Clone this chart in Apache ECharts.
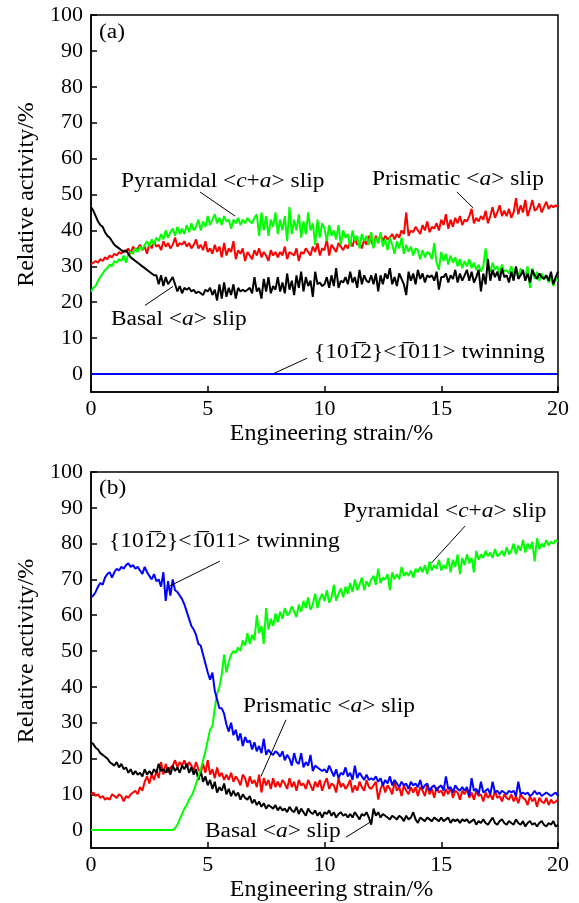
<!DOCTYPE html>
<html>
<head>
<meta charset="utf-8">
<script src="https://cdn.jsdelivr.net/npm/echarts@6/dist/echarts.min.js"></script>
<style>
  html, body { margin: 0; padding: 0; background: #fff; }
  #chart { width: 579px; height: 903px; }
</style>
</head>
<body>
<div id="chart"></div>
<script>
// strain sampled every 0.1 % from 0 to 20
const strain = Array.from({ length: 201 }, (_, i) => +(i * 0.1).toFixed(1));
const yTicks = [0, 10, 20, 30, 40, 50, 60, 70, 80, 90, 100];

// ---- panel (a) ----
const basalA = [
  46.5, 45.5, 44, 42.5, 41.5, 41, 39.5, 38.5, 38, 37, 36,
  35.5, 35, 34.5, 34, 34.5, 33.5, 32.5, 32, 31.5, 31,
  30.5, 30, 29.5, 29, 28.5, 28, 27.5, 27.5, 25, 27.5,
  24.5, 27, 25, 26, 27, 25, 23, 24.5, 22.5, 24,
  23.5, 24, 23, 23.5, 22.5, 23, 22.5, 22, 23.5, 23,
  24, 22, 23.5, 20.5, 25, 21, 25.5, 21.5, 24, 22,
  25, 21, 24, 23, 23.5, 23, 23.5, 24, 22.5, 27,
  23, 24, 21, 26.5, 23, 27, 22.5, 24.5, 23.5, 27,
  23, 25.5, 22.5, 28, 23.5, 26, 22, 27.5, 24, 28.5,
  23, 27, 24.5, 26, 21.5, 28.5, 25, 25.5, 24.5, 25,
  27, 24, 27.5, 24.5, 29.5, 24, 26, 25.5, 27, 25,
  28.5, 25.5, 27, 24, 29, 25, 27.5, 26, 25.5, 27.5,
  25, 28, 23, 27.5, 25, 28, 26.5, 29.5, 25, 27,
  24.5, 28, 26.5, 25, 22, 28.5, 26, 28, 25, 29,
  26.5, 28, 25.5, 27.5, 27, 27.5, 26, 28.5, 23.5, 27,
  27, 28, 25.5, 27.5, 26.5, 29, 25.5, 28, 26, 27.5,
  29, 26, 28.5, 25.5, 27, 29, 23, 28, 25, 32,
  26, 29, 27, 28.5, 26, 29.5, 27, 27.5, 25.5, 28.5,
  26, 30, 26.5, 27.5, 29, 26, 28, 25.5, 29, 27.5,
  26.5, 28, 27, 26.5, 27.5, 26, 28.5, 25, 27, 28.5
];
const prismA = [
  30.5, 31, 31.5, 31, 32, 31.5, 32.5, 32, 33, 32.5, 33.5,
  33, 34, 33.5, 34.5, 34, 35, 33.5, 35.5, 34.5, 35,
  36, 34.5, 35.5, 33.5, 36.5, 35, 37, 35.5, 36, 34.5,
  37, 35.5, 36.5, 35, 36, 38, 35.5, 36.5, 36, 37,
  35.5, 36.5, 35, 36, 37.5, 35, 36, 34.5, 37, 34,
  35, 33.5, 36, 34, 35.5, 32.5, 36.5, 33, 35, 34,
  37, 32, 34.5, 33.5, 35, 31.5, 34, 33, 32, 34.5,
  33, 35, 32.5, 34, 33, 31.5, 34.5, 33, 34, 32.5,
  34, 33, 35.5, 32, 34, 33.5, 33, 35, 31.5, 34,
  33.5, 35, 34, 33, 35.5, 34, 36.5, 33, 35, 34.5,
  37.5, 33, 36, 35, 34, 36.5, 35.5, 34.5, 36, 35,
  37, 35.5, 38, 36, 36.5, 35, 37.5, 36, 38.5, 37,
  35.5, 38.5, 36.5, 39, 37, 38.5, 37.5, 38, 39, 37.5,
  39, 38, 40, 39, 45, 38.5, 40, 39.5, 41, 40,
  39, 41.5, 40, 42.5, 39.5, 41, 40.5, 42, 40, 43,
  41.5, 44.5, 40.5, 43, 41, 43.5, 42, 44, 41.5, 43,
  42.5, 44, 46, 42, 43.5, 42.5, 44, 43, 45.5, 42,
  44, 46.5, 43.5, 45, 47, 44, 45.5, 44, 46, 43.5,
  45, 49, 44.5, 47, 45, 48.5, 44, 46, 48.5, 45.5,
  46, 47.5, 45, 46.5, 48, 46, 47, 46.5, 47, 46.5
];
const pyrA = [
  23, 24, 24.5, 26, 27, 28, 29, 29.5, 30.5, 30, 31.5,
  31, 32, 31.5, 33, 31, 33.5, 34, 33.5, 35, 34,
  35.5, 34.5, 36, 37, 35.5, 37.5, 36, 38, 37, 39,
  37.5, 40, 38, 39.5, 40.5, 38.5, 41, 39, 40.5, 39,
  41.5, 39.5, 42, 40, 41, 43, 40, 42.5, 41, 44,
  41.5, 43, 44.5, 42, 43.5, 41.5, 44, 42.5, 43, 40.5,
  43, 42, 43.5, 41.5, 43, 42, 43.5, 42.5, 42, 43.5,
  44.5, 38.5, 45, 40, 44, 38.5, 43, 41, 45, 39,
  43, 40, 44, 37, 46.5, 39, 43, 40, 44.5, 38,
  42.5, 39, 45, 40, 42, 36, 43, 38, 42, 40.5,
  37, 41.5, 38.5, 40, 37.5, 41.5, 36, 40, 38, 39,
  35.5, 40, 37, 38.5, 35, 39, 37, 38.5, 36, 39.5,
  35, 38, 36.5, 39.5, 35.5, 37.5, 34.5, 38, 36, 33.5,
  37, 35, 38, 33.5, 36, 34, 35.5, 33, 35, 34.5,
  32, 34.5, 32.5, 34, 33.5, 32, 36.5, 31, 29, 34,
  31.5, 33.5, 30.5, 33, 31, 32.5, 30, 32, 29.5, 31.5,
  30, 32, 29.5, 31, 29, 30.5, 28.5, 30, 35, 30,
  28.5, 31, 29, 30, 27.5, 30.5, 28.5, 29, 28, 30,
  27.5, 29.5, 27, 29.5, 28, 27, 30, 24, 29.5, 26.5,
  28.5, 26, 28, 26.5, 27.5, 25.5, 27, 24.5, 26.5, 26
];
const twinAStrain = [0, 20];
const twinA = [0, 0];

// ---- panel (b) ----
const basalB = [
  24.5, 24, 23, 22.5, 21.5, 21, 20.5, 20, 19, 18.5, 18,
  19, 17.5, 18.5, 17, 17.5, 16, 17, 15.5, 16.5, 15.5,
  16, 15, 17, 15.5, 16.5, 15.5, 17, 16, 18.5, 16.5,
  17, 16, 17.5, 15.5, 18, 16.5, 17.5, 16, 18, 17,
  18.5, 16, 17.5, 15.5, 17, 14, 16.5, 13.5, 15, 12.5,
  14, 11.5, 13.5, 10.5, 12, 11, 13, 10, 11.5, 9.5,
  11, 9.5, 10.5, 8.5, 10, 9, 8.5, 9.5, 7.5, 8.5,
  7, 8, 6.5, 7.5, 6, 7, 6.5, 6, 7, 5.5,
  6.5, 5.5, 6, 5, 6.5, 5.5, 5, 6.5, 4.5, 6,
  5, 4, 6, 5, 4.5, 5.5, 4, 5, 3.5, 5,
  4.5, 5.5, 4, 5, 3.5, 4.5, 5, 4, 4.5, 3.5,
  4.5, 3.5, 5, 4, 3, 4.5, 4, 5, 3.5, 1.5,
  6, 4, 5, 3.5, 4.5, 4, 3.5, 3, 4, 3.5,
  3, 4, 3.5, 2.5, 4, 3, 3.5, 5, 3, 2,
  3.5, 3, 2.5, 3.5, 3, 2.5, 3.5, 3, 2.5, 3.5,
  2.5, 3, 3.5, 2, 3, 2.5, 3, 2, 3, 2.5,
  3, 2, 2.5, 3, 1.5, 2.5, 2, 3, 2, 1.5,
  2.5, 3.5, 2, 1.5, 2.5, 3, 2, 1.5, 2.5, 2,
  1.5, 3, 2, 1.5, 2.5, 1, 2, 2.5, 1.5, 2,
  1, 2, 2.5, 1.5, 1, 2, 1.5, 2.5, 1, 1.5
];
const prismB = [
  10, 10.5, 9.5, 10, 9, 9.5, 8.5, 9, 8.5, 10, 9.5,
  9, 10, 9.5, 8, 9.5, 9, 10, 10.5, 11, 10,
  12, 11, 13.5, 15, 13, 15.5, 14, 16.5, 14.5, 19,
  15.5, 18.5, 16, 17.5, 18, 19.5, 17.5, 19, 18, 19.5,
  17.5, 19, 18, 16.5, 19, 17, 16, 18.5, 16, 19.5,
  15.5, 17, 14.5, 17.5, 15, 16, 14, 15.5, 14, 16,
  13.5, 15, 14, 12.5, 15.5, 14.5, 12, 15, 13, 14,
  12, 15.5, 10.5, 14.5, 12.5, 14, 11.5, 14.5, 12, 13.5,
  12, 14, 13, 11.5, 14.5, 12, 13.5, 11, 14, 12.5,
  13, 11.5, 14, 12.5, 11, 13.5, 12, 14, 11, 13,
  14.5, 11.5, 13, 12.5, 10.5, 14.5, 12, 13, 11.5, 12.5,
  14, 10.5, 12.5, 11, 13.5, 12, 11, 14, 12, 11.5,
  12.5, 13.5, 8.5, 11.5, 13, 10.5, 12.5, 11.5, 10, 13.5,
  11, 12, 9.5, 12.5, 11, 10, 12, 10.5, 12, 9.5,
  12, 11, 9.5, 12.5, 10, 11.5, 9, 12, 10.5, 11,
  9.5, 11.5, 10, 12, 9, 11, 10.5, 8.5, 11, 10,
  11.5, 9, 10.5, 8.5, 11, 9.5, 10, 8, 10.5, 9,
  10, 8.5, 11, 9, 9.5, 8, 10, 9, 8.5, 10,
  8, 9.5, 7.5, 10, 9, 8.5, 7, 9.5, 8, 9,
  6.5, 9, 8, 7.5, 9, 7, 8.5, 7.5, 8, 8.5
];
const pyrB = [
  0, 0, 0, 0, 0, 0, 0, 0, 0, 0, 0,
  0, 0, 0, 0, 0, 0, 0, 0, 0, 0,
  0, 0, 0, 0, 0, 0, 0, 0, 0, 0,
  0, 0, 0, 0, 0, 0.5, 1.5, 3, 4.5, 6,
  7, 8.5, 9.5, 11, 13, 15, 17, 19.5, 22, 25,
  28, 29, 34, 38, 40, 43.5, 49, 44, 47, 49,
  50, 49.5, 51, 50, 53, 51.5, 55, 52, 54.5, 53,
  60, 55, 57, 52, 62, 56, 59, 57, 60.5, 58,
  61, 59, 62, 60, 60.5, 62.5, 61, 59.5, 63, 61,
  64, 62, 65, 61.5, 63, 66, 62, 64.5, 66, 64,
  67, 63.5, 65, 68.5, 64, 66, 67.5, 65, 68, 66,
  69, 66.5, 70, 67, 68.5, 70.5, 67, 69.5, 68, 70,
  71, 68.5, 73, 69, 70.5, 70, 71.5, 67, 72, 70,
  71.5, 70, 73.5, 71, 72, 71, 72.5, 70.5, 73, 72,
  73.5, 72, 74, 71.5, 75, 72.5, 74, 73, 75.5, 72.5,
  74, 73, 76, 72, 75.5, 73.5, 77, 71.5, 76, 74,
  77, 74.5, 76, 72, 78, 75.5, 77, 76, 78, 76.5,
  77.5, 76, 78.5, 76.5, 77, 78, 76.5, 79, 77, 78,
  80, 77, 79.5, 78, 81, 77.5, 80, 78.5, 80.5, 75,
  81.5, 78.5, 80, 79, 81, 79.5, 80.5, 80, 81, 80.5
];
const twinB = [
  65, 65.5, 66.5, 68, 69, 68.5, 70.5, 71.5, 72, 70.5, 72,
  73, 72.5, 73.5, 73, 74, 74.5, 73.5, 74, 73, 73.5,
  72.5, 71.5, 73.5, 72, 71, 70, 71.5, 69.5, 70, 68,
  72, 64, 69.5, 65.5, 70, 67, 66.5, 65.5, 64.5, 63,
  61, 59, 57, 56, 54.5, 52, 51.5, 49, 46.5, 44,
  42, 44, 39, 36.5, 34, 34, 32.5, 29.5, 27.5, 30,
  26.5, 28, 25, 27, 23.5, 26, 24.5, 25, 22.5, 24.5,
  22, 23.5, 21.5, 25.5, 21, 22.5, 21.5, 21, 22, 21.5,
  20.5, 22, 19.5, 21, 20, 18, 21.5, 19, 18.5, 21.5,
  17.5, 19, 18, 21, 16.5, 18, 17.5, 17, 16.5, 17,
  16, 18, 16.5, 15, 17, 14.5, 16, 15.5, 17.5, 15,
  16, 14, 18, 14.5, 16, 15, 14, 15.5, 14, 14.5,
  14, 15, 13.5, 14.5, 12.5, 14, 13, 15, 12.5, 14,
  13, 12, 13.5, 12.5, 13, 11.5, 13.5, 12.5, 13, 12,
  14, 11.5, 12.5, 13, 11, 12, 12.5, 11, 12, 12.5,
  11, 15, 11.5, 12, 10.5, 12.5, 11.5, 11, 12, 11,
  12, 9.5, 14.5, 11, 11.5, 10, 13.5, 10.5, 11, 11.5,
  10, 13.5, 10.5, 11, 10, 11, 10.5, 10, 11, 10.5,
  11, 9.5, 13.5, 10, 10.5, 10, 10.5, 9.5, 10, 11,
  10, 10.5, 9.5, 10, 10.5, 10, 9.5, 10, 10.5, 9.5
];

// leader lines for annotations, data coords [x1, y1, x2, y2]
const leadersA = [
  [4.67, 50.7, 6.17, 44.0],
  [15.67, 50.7, 16.36, 46.3],
  [2.31, 19.1, 3.51, 24.4],
  [7.84, 0.2, 9.25, 4.4]
];
const leadersB = [
  [16.02, 84.9, 14.58, 74.6],
  [5.52, 75.1, 3.38, 68.2],
  [8.35, 30.8, 7.28, 15.0],
  [10.92, -2.0, 11.95, 2.2]
];

const FONT = "'Liberation Serif', 'Times New Roman', serif";
const chart = echarts.init(document.getElementById("chart"));

function pairs(xs, ys) {
  return ys.map((v, i) => [xs[i], v]);
}

function leaderLines(list) {
  return {
    silent: true,
    symbol: "none",
    animation: false,
    label: { show: false },
    lineStyle: { color: "#000", width: 1, type: "solid" },
    emphasis: { disabled: true },
    data: list.map(l => [{ coord: [l[0], l[1]] }, { coord: [l[2], l[3]] }])
  };
}

function line(name, idx, data, color, extra) {
  return Object.assign({
    name: name,
    type: "line",
    xAxisIndex: idx,
    yAxisIndex: idx,
    data: data,
    showSymbol: false,
    symbol: "none",
    lineStyle: { color: color, width: 2 },
    itemStyle: { color: color },
    animation: false
  }, extra || {});
}

function xAxis(idx) {
  return {
    gridIndex: idx,
    type: "value",
    min: 0,
    max: 20,
    interval: 5,
    name: "Engineering strain/%",
    nameLocation: "middle",
    nameGap: 30,
    nameTextStyle: { fontFamily: FONT, fontSize: 24, color: "#000", padding: [0, 0, 0, 14] },
    axisLine: { show: true, onZero: false, lineStyle: { color: "#000", width: 1.5 } },
    axisTick: { show: true, inside: true, length: 6, lineStyle: { color: "#000", width: 1.5 } },
    axisLabel: { fontFamily: FONT, fontSize: 22, color: "#000", margin: 6 },
    splitLine: { show: false }
  };
}

function yAxis(idx) {
  return {
    gridIndex: idx,
    type: "value",
    min: -5,
    max: 100,
    name: "Relative activity/%",
    nameLocation: "middle",
    nameGap: 52,
    nameTextStyle: { fontFamily: FONT, fontSize: 24, color: "#000", padding: [0, 0, 0, 18] },
    axisLine: { show: true, onZero: false, lineStyle: { color: "#000", width: 1.5 } },
    axisTick: { show: true, inside: true, length: 6, customValues: yTicks, lineStyle: { color: "#000", width: 1.5 } },
    axisLabel: { fontFamily: FONT, fontSize: 22, color: "#000", margin: 8, customValues: yTicks },
    splitLine: { show: false }
  };
}

const rich = {
  i: { fontFamily: FONT, fontSize: 20, fontStyle: "italic", fill: "#000" }
};

function note(x, y, text) {
  return {
    type: "text",
    x: x,
    y: y,
    scaleX: 1.17,
    silent: true,
    style: {
      text: text,
      fontFamily: FONT,
      fontSize: 20,
      fill: "#000",
      verticalAlign: "middle",
      rich: rich
    }
  };
}

const twinText = "{101\u03052}<1\u0305011> twinning";

chart.setOption({
  backgroundColor: "#fff",
  animation: false,
  grid: [
    { left: 91, right: 21, top: 15, height: 377, show: true, borderColor: "#000", borderWidth: 1.5 },
    { left: 91, right: 21, top: 472, height: 377, show: true, borderColor: "#000", borderWidth: 1.5 }
  ],
  xAxis: [xAxis(0), xAxis(1)],
  yAxis: [yAxis(0), yAxis(1)],
  series: [
    line("Prismatic <a> slip", 0, pairs(strain, prismA), "#ff0000", { markLine: leaderLines(leadersA) }),
    line("Pyramidal <c+a> slip", 0, pairs(strain, pyrA), "#00ff00"),
    line("Basal <a> slip", 0, pairs(strain, basalA), "#000000"),
    line("Twinning", 0, pairs(twinAStrain, twinA), "#0000ff"),

    line("Prismatic <a> slip", 1, pairs(strain, prismB), "#ff0000", { markLine: leaderLines(leadersB) }),
    line("Basal <a> slip", 1, pairs(strain, basalB), "#000000"),
    line("Pyramidal <c+a> slip", 1, pairs(strain, pyrB), "#00ff00"),
    line("Twinning", 1, pairs(strain, twinB), "#0000ff")
  ],
  graphic: [
    note(99, 33, "(a)"),
    note(121, 182, "Pyramidal <{i|c}+{i|a}> slip"),
    note(372, 180, "Prismatic <{i|a}> slip"),
    note(111, 320, "Basal <{i|a}> slip"),
    note(314, 353, twinText),

    note(99, 489, "(b)"),
    note(343, 512, "Pyramidal <{i|c}+{i|a}> slip"),
    note(109, 542, twinText),
    note(243, 707, "Prismatic <{i|a}> slip"),
    note(205, 832, "Basal <{i|a}> slip")
  ]
});
</script>
</body>
</html>
